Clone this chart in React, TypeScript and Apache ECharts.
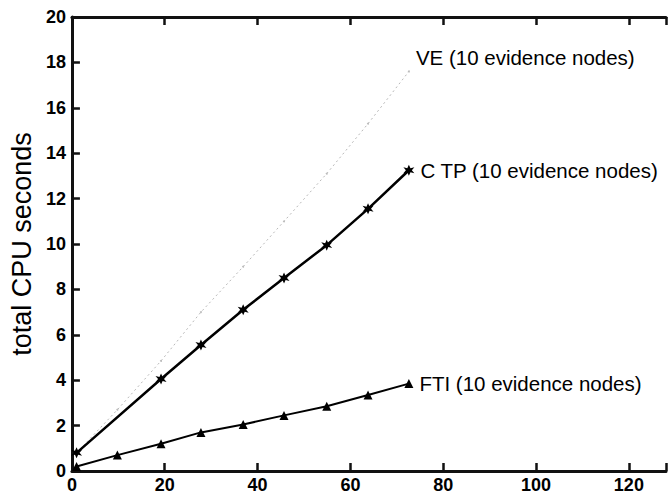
import React, { useEffect, useRef } from "react";
import * as echarts from "echarts";

const xTicks = [0, 20, 40, 60, 80, 100, 120];
const yTicks = [0, 2, 4, 6, 8, 10, 12, 14, 16, 18, 20];

const veX = [1, 9.8, 19.2, 27.8, 36.9, 45.7, 54.9, 63.8, 72.6];
const veY = [0.8, 2.7, 4.85, 7.0, 9.0, 11.0, 13.1, 15.3, 17.6];

const ctpX = [1, 19.2, 27.8, 36.9, 45.7, 54.9, 63.8, 72.6];
const ctpY = [0.8, 4.05, 5.55, 7.1, 8.5, 9.95, 11.55, 13.25];

const ftiX = [1, 9.8, 19.2, 27.8, 36.9, 45.7, 54.9, 63.8, 72.6];
const ftiY = [0.2, 0.7, 1.2, 1.7, 2.05, 2.45, 2.85, 3.35, 3.85];

const labelVE = "VE (10 evidence nodes)";
const labelCTP = "C TP (10 evidence nodes)";
const labelFTI = "FTI (10 evidence nodes)";
const yName = "total CPU seconds";

const FONT = "'Liberation Sans', Arial, sans-serif";

const starPath =
  "path://M5,0 L6.4,3.2 L9.8,2.3 L7.6,5 L9.8,7.7 L6.4,6.8 L5,10 L3.6,6.8 L0.2,7.7 L2.4,5 L0.2,2.3 L3.6,3.2 Z";

function build(xs: number[], ys: number[], label: string, offset: number[]) {
  return xs.map((x, i) => {
    const item: any = { value: [x, ys[i]] };
    if (i === xs.length - 1) {
      item.label = {
        show: true,
        position: "right",
        distance: 6,
        offset,
        formatter: label,
        color: "#000",
        fontFamily: FONT,
        fontSize: 20.5,
      };
    }
    return item;
  });
}

export default function App() {
  const ref = useRef<HTMLDivElement>(null);
  useEffect(() => {
    if (!ref.current) return;
    const chart = echarts.init(ref.current, undefined, { renderer: "svg" });
    const tickLabel = {
      color: "#000",
      fontFamily: FONT,
      fontSize: 18,
      fontWeight: "bold",
    };
    const line = { show: true, onZero: false, lineStyle: { color: "#111", width: 3 } };
    const tick = { show: true, inside: true, length: 8, lineStyle: { color: "#111", width: 2.5 } };
    chart.setOption({
      animation: false,
      backgroundColor: "#fff",
      grid: { left: 69, top: 17, right: 0, bottom: 25, containLabel: false },
      xAxis: [
        {
          type: "value",
          min: 0,
          max: 128,
          interval: 20,
          position: "bottom",
          axisLine: line,
          axisTick: tick,
          splitLine: { show: false },
          axisLabel: {
            ...tickLabel,
            margin: 5,
            formatter: (v: number) => (xTicks.includes(v) ? String(v) : ""),
          },
        },
        {
          type: "value",
          min: 0,
          max: 128,
          interval: 20,
          position: "top",
          axisLine: line,
          axisTick: tick,
          splitLine: { show: false },
          axisLabel: { show: false },
        },
      ],
      yAxis: {
        type: "value",
        min: 0,
        max: 20,
        interval: 2,
        axisLine: line,
        axisTick: tick,
        splitLine: { show: false },
        axisLabel: {
          ...tickLabel,
          margin: 6,
          formatter: (v: number) => (yTicks.includes(v) ? String(v) : ""),
        },
        name: yName,
        nameLocation: "middle",
        nameGap: 36,
        nameRotate: 90,
        nameTextStyle: { color: "#000", fontFamily: FONT, fontSize: 27 },
      },
      series: [
        {
          name: "VE",
          type: "line",
          xAxisIndex: 0,
          data: build(veX, veY, labelVE, [0, -14]),
          lineStyle: { color: "#b8b8b8", width: 1, type: [2, 3] },
          symbol: "circle",
          symbolSize: 2,
          itemStyle: { color: "#bbbbbb" },
          z: 1,
        },
        {
          name: "CTP",
          type: "line",
          xAxisIndex: 0,
          data: build(ctpX, ctpY, labelCTP, [0, 0]),
          lineStyle: { color: "#000", width: 2.5 },
          symbol: starPath,
          symbolSize: 11,
          itemStyle: { color: "#000" },
          z: 3,
        },
        {
          name: "FTI",
          type: "line",
          xAxisIndex: 0,
          data: build(ftiX, ftiY, labelFTI, [0, 0]),
          lineStyle: { color: "#000", width: 2 },
          symbol: "triangle",
          symbolSize: 9,
          itemStyle: { color: "#000" },
          z: 3,
        },
      ],
    });
    return () => chart.dispose();
  }, []);
  return (
    <div
      ref={ref}
      style={{ position: "fixed", left: 0, top: 0, width: 669, height: 496, background: "#fff" }}
    />
  );
}
